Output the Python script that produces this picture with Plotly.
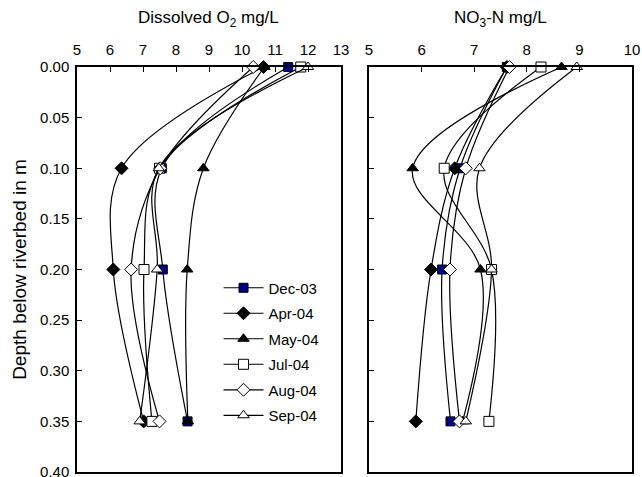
import plotly.graph_objects as go

depth = [0.00, 0.10, 0.20, 0.35]
series = ["Dec-03", "Apr-04", "May-04", "Jul-04", "Aug-04", "Sep-04"]

# Dissolved O2 (mg/L)
o2_dec = [11.40, 7.57, 7.60, 8.35]
o2_apr = [10.65, 6.35, 6.10, 7.02]
o2_may = [10.68, 8.83, 8.34, 8.36]
o2_jul = [11.78, 7.50, 7.03, 7.27]
o2_aug = [10.34, 7.52, 6.64, 7.50]
o2_sep = [12.00, 7.48, 7.43, 6.90]

# NO3-N (mg/L)
no3_dec = [7.62, 6.73, 6.39, 6.55]
no3_apr = [7.62, 6.63, 6.18, 5.89]
no3_may = [8.66, 5.83, 7.12, 6.78]
no3_jul = [8.27, 6.43, 7.33, 7.28]
no3_aug = [7.67, 6.84, 6.54, 6.72]
no3_sep = [8.95, 7.10, 7.33, 6.84]

depth_ticks = [0, 0.05, 0.1, 0.15, 0.2, 0.25, 0.3, 0.35, 0.4]

o2 = [o2_dec, o2_apr, o2_may, o2_jul, o2_aug, o2_sep]
no3 = [no3_dec, no3_apr, no3_may, no3_jul, no3_aug, no3_sep]

styles = [
    dict(symbol="square", color="#000080"),
    dict(symbol="diamond", color="black"),
    dict(symbol="triangle-up", color="black"),
    dict(symbol="square", color="white"),
    dict(symbol="diamond", color="white"),
    dict(symbol="triangle-up", color="white"),
]
sizes = [9, 10, 10, 10, 10, 10]

fig = go.Figure()
for i, name in enumerate(series):
    mk = dict(symbol=styles[i]["symbol"], color=styles[i]["color"], size=sizes[i],
              line=dict(color="black", width=1))
    fig.add_trace(go.Scatter(x=o2[i], y=depth, mode="lines+markers", name=name,
                             line=dict(color="black", width=1.2, shape="spline", smoothing=1.0),
                             marker=mk, xaxis="x", yaxis="y", legendgroup=name,
                             cliponaxis=False, hoverinfo="skip"))
for i, name in enumerate(series):
    mk = dict(symbol=styles[i]["symbol"], color=styles[i]["color"], size=sizes[i],
              line=dict(color="black", width=1))
    fig.add_trace(go.Scatter(x=no3[i], y=depth, mode="lines+markers", name=name,
                             line=dict(color="black", width=1.2, shape="spline", smoothing=1.0),
                             marker=mk, xaxis="x2", yaxis="y2", showlegend=False,
                             cliponaxis=False, hoverinfo="skip"))

font = dict(family="Liberation Sans, Arial, sans-serif", color="black")
axis_common = dict(showline=True, linecolor="black", linewidth=1.5, mirror=True,
                   showgrid=False, zeroline=False, ticks="inside", ticklen=5,
                   tickcolor="black", tickwidth=1.2, tickfont=dict(size=15),
                   ticklabeloverflow="allow", automargin=False)

fig.update_layout(
    width=642, height=477,
    margin=dict(l=77, r=10, t=67, b=5),
    paper_bgcolor="white", plot_bgcolor="white",
    font=font,
    xaxis=dict(domain=[0, 0.4757], range=[5, 13], dtick=1, side="top",
               ticklabelstandoff=4, **axis_common),
    xaxis2=dict(domain=[0.5261, 1], range=[5, 10], dtick=1, side="top", anchor="y2",
                ticklabelstandoff=4, **axis_common),
    yaxis=dict(domain=[0, 1], range=[0.40, 0.0], tickvals=depth_ticks,
               tickformat=".2f", ticklabelstandoff=3,
               title=dict(text="Depth below riverbed in m", font=dict(size=19), standoff=8),
               **axis_common),
    yaxis2=dict(domain=[0, 1], range=[0.40, 0.0], tickvals=depth_ticks,
                showticklabels=False, anchor="x2", **axis_common),
    legend=dict(x=0.255, y=0.495, xanchor="left", yanchor="top", bgcolor="rgba(0,0,0,0)",
                font=dict(size=15), tracegroupgap=3, itemwidth=40),
    showlegend=True,
    annotations=[
        dict(text="Dissolved O<sub>2</sub> mg/L", xref="paper", yref="paper", x=0.2378, y=1,
             yshift=48, xanchor="center", yanchor="middle", showarrow=False, font=dict(size=17)),
        dict(text="NO<sub>3</sub>-N mg/L", xref="paper", yref="paper", x=0.763, y=1,
             yshift=48, xanchor="center", yanchor="middle", showarrow=False, font=dict(size=17)),
    ],
)

fig.write_html("out.html")
